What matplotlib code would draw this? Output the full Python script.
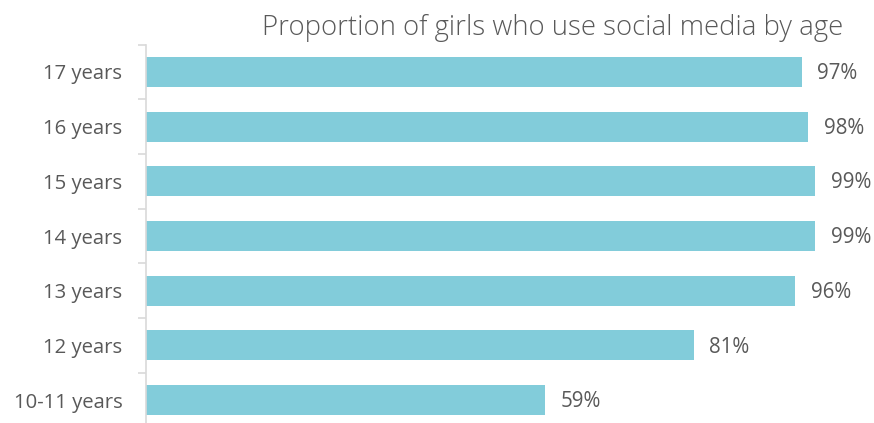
import matplotlib
matplotlib.use("Agg")
import matplotlib.pyplot as plt
import numpy as np

ages = ["10-11 years", "12 years", "13 years", "14 years", "15 years", "16 years", "17 years"]
shares = [59, 81, 96, 99, 99, 98, 97]
value_labels = ["59%", "81%", "96%", "99%", "99%", "98%", "97%"]

BAR = "#82ccda"
TEXT = "#595959"
LINE = "#d9d9d9"

plt.rcParams["font.family"] = ["Open Sans", "DejaVu Sans"]

fig = plt.figure(figsize=(8.74, 4.23), dpi=100)
ax = fig.add_axes([146 / 874, -4.5 / 423, (822 - 146) / 874, (427.5 - 44.6) / 423])

pos = np.arange(len(ages))
ax.barh(pos, shares, height=0.55, color=BAR)
for y, v, lab in zip(pos, shares, value_labels):
    ax.text(v + 2.3, y - 0.03, lab, va="center", ha="left", fontsize=14.8, color=TEXT, clip_on=False)

ax.set_xlim(0, 100)
ax.set_ylim(-0.5, len(ages) - 0.5)
ax.set_xticks([])
ax.set_yticks(pos)
ax.set_yticklabels(ages, fontsize=14.6, color=TEXT)
ax.tick_params(axis="y", which="major", length=0, pad=17)
ax.set_yticks(np.arange(len(ages) + 1) - 0.5, minor=True)
ax.tick_params(axis="y", which="minor", length=6, width=1.2, color=LINE)

for side in ["top", "right", "bottom"]:
    ax.spines[side].set_visible(False)
ax.spines["left"].set_color(LINE)
ax.spines["left"].set_linewidth(1.2)

fig.text(553 / 874, 1 - 27.5 / 423, "Proportion of girls who use social media by age",
         ha="center", va="center", fontsize=19.8, color=TEXT, fontweight="light")

fig.savefig("out.png", dpi=100)
